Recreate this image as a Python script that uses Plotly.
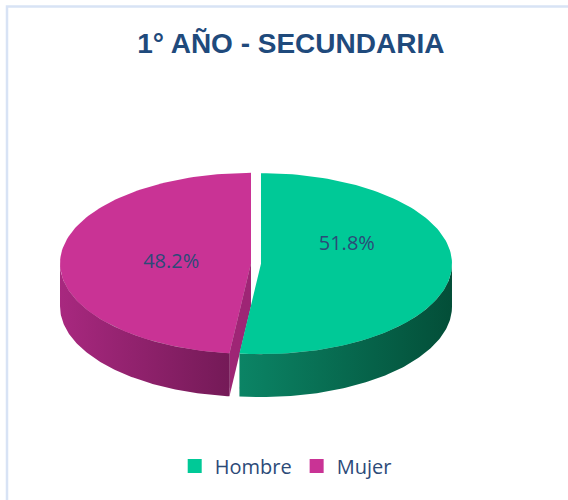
import numpy as np
import plotly.graph_objects as go

# ---------------- data ----------------
labels = ["Hombre", "Mujer"]
values = [51.8, 48.2]
title_text = "1° AÑO - SECUNDARIA"

# ---------------- styles ----------------
top_colors = ["#00C997", "#C93395"]
side_light = ["#0B8465", "#A8287F"]
side_dark = ["#034E38", "#741A57"]
cut_colors = ["#0A7A5C", "#9E2575"]
label_nudge_x = [0, 6]            # Excel-like label placement tweak (px)
label_nudge_y = [-21, 2]
text_color = "#2C4A78"

W, H = 568, 500
CX, CY = 256, 263.5    # pie centre (px)
A, B = 191, 90.5       # ellipse semi-axes (px)
DEPTH = 43             # pie thickness (px)
EXPLODE = 5            # explosion (px)
LABEL_R = 0.45

total = sum(values)
pcts = [v / total * 100 for v in values]
angles = np.cumsum([0] + [p * 3.6 for p in pcts])


def pt(theta, dx, dy, dz=0.0):
    t = np.radians(theta)
    return CX + dx + A * np.sin(t), CY + dy - B * np.cos(t) + dz


def arc(t0, t1, dx, dy, dz=0.0, n=120):
    ts = np.linspace(t0, t1, n)
    xs, ys = zip(*[pt(t, dx, dy, dz) for t in ts])
    return list(xs), list(ys)


fig = go.Figure()

offsets = []
for i in range(len(values)):
    a0, a1 = angles[i], angles[i + 1]
    mid = np.radians((a0 + a1) / 2)
    offsets.append((EXPLODE * np.sin(mid), -EXPLODE * (B / A) * np.cos(mid)))

# shadow visible through the gap
for i in range(len(values)):
    a0, a1 = angles[i], angles[i + 1]
    dx, dy = offsets[i]
    xs, ys = arc(a0, a1, dx, dy, 35)
    fig.add_trace(go.Scatter(
        x=[CX + dx] + xs + [CX + dx], y=[CY + dy + 35] + ys + [CY + dy + 35],
        fill="toself", mode="lines", line=dict(width=0),
        fillcolor="#B8B8B8", hoverinfo="skip", showlegend=False))

# radial (cut) faces
for i in range(len(values)):
    a0, a1 = angles[i], angles[i + 1]
    dx, dy = offsets[i]
    for ang, sign in ((a0, -1), (a1, 1)):
        if sign * np.sin(np.radians(ang)) > 1e-6:
            rx, ry = pt(ang, dx, dy)
            cx, cy = CX + dx, CY + dy
            fig.add_trace(go.Scatter(
                x=[cx, rx, rx, cx, cx], y=[cy, ry, ry + DEPTH, cy + DEPTH, cy],
                fill="toself", mode="lines", line=dict(width=0),
                fillcolor=cut_colors[i], hoverinfo="skip", showlegend=False))

# outer sides
for i in range(len(values)):
    a0, a1 = angles[i], angles[i + 1]
    dx, dy = offsets[i]
    lo, hi = max(a0, 90), min(a1, 270)
    if lo < hi:
        tx, ty = arc(lo, hi, dx, dy)
        bx, by = arc(hi, lo, dx, dy, DEPTH)
        xs = tx + bx + [tx[0]]
        ys = ty + by + [ty[0]]
        cs = [[0, side_light[i]], [1, side_dark[i]]]
        fig.add_trace(go.Scatter(
            x=xs, y=ys, fill="toself", mode="lines", line=dict(width=0),
            fillgradient=dict(type="horizontal", colorscale=cs),
            fillcolor=side_dark[i], hoverinfo="skip", showlegend=False))

# top faces
for i in range(len(values)):
    a0, a1 = angles[i], angles[i + 1]
    dx, dy = offsets[i]
    xs, ys = arc(a0, a1, dx, dy)
    fig.add_trace(go.Scatter(
        x=[CX + dx] + xs + [CX + dx], y=[CY + dy] + ys + [CY + dy],
        fill="toself", mode="lines", line=dict(width=0),
        fillcolor=top_colors[i], hoverinfo="skip", showlegend=False))

# labels
for i in range(len(values)):
    a0, a1 = angles[i], angles[i + 1]
    mid = (a0 + a1) / 2
    dx, dy = offsets[i]
    t = np.radians(mid)
    lx = CX + dx + LABEL_R * A * np.sin(t) + label_nudge_x[i]
    ly = CY + dy - LABEL_R * B * np.cos(t) + label_nudge_y[i]
    fig.add_trace(go.Scatter(
        x=[lx], y=[ly], mode="text", text=[f"{pcts[i]:.1f}%"],
        textfont=dict(family="Open Sans", size=20, color=text_color),
        hoverinfo="skip", showlegend=False))

# legend entries
for i, lab in enumerate(labels):
    fig.add_trace(go.Scatter(
        x=[None], y=[None], mode="markers", name=lab,
        marker=dict(symbol="square", size=14, color=top_colors[i])))

fig.add_shape(type="rect", xref="x", yref="y", x0=7, y0=6.5, x1=W + 20, y1=H + 20,
              line=dict(color="#D8E3F5", width=2.5), fillcolor="rgba(0,0,0,0)")

fig.update_layout(
    width=W, height=H,
    margin=dict(l=0, r=0, t=0, b=0),
    paper_bgcolor="white", plot_bgcolor="white",
    xaxis=dict(range=[0, W], visible=False, fixedrange=True),
    yaxis=dict(range=[H, 0], visible=False, fixedrange=True),
    title=dict(text=f"<b>{title_text}</b>", x=0.512, xanchor="center",
               y=1 - 43 / H, yanchor="middle",
               font=dict(family="Arial, Liberation Sans", size=28, color="#1F4A7C")),
    legend=dict(orientation="h", x=0.503, xanchor="center", y=1 - 466 / H,
                yanchor="middle", font=dict(family="Open Sans", size=20, color=text_color),
                itemwidth=30, tracegroupgap=0),
    showlegend=True,
)

fig.write_html(
    "out.html",
    config={"displayModeBar": False},
    post_script="document.body.style.margin='0px';document.body.style.overflow='hidden';",
)
